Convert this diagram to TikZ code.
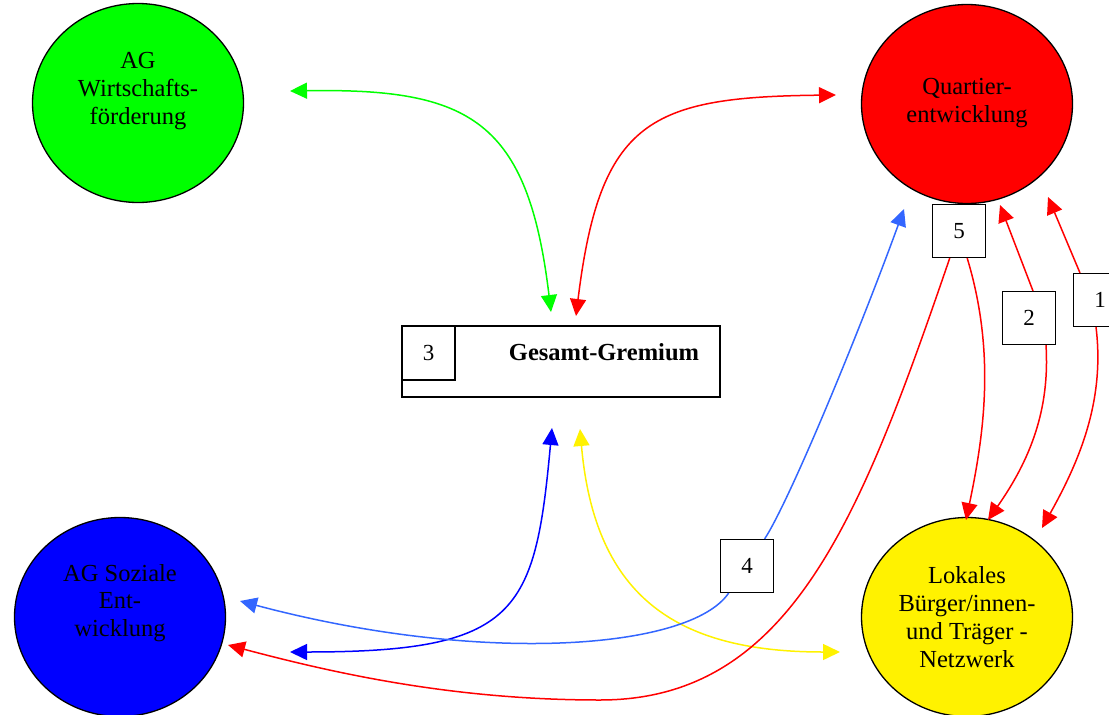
\documentclass[tikz,border=0pt]{standalone}
\usepackage{fontspec}
\setmainfont{Liberation Serif}
\usetikzlibrary{arrows.meta,shapes.geometric}
\definecolor{hellblau}{RGB}{51,102,255}

\begin{document}
\begin{tikzpicture}[x=1pt,y=-1pt,
  kreis/.style={ellipse, draw, line width=1.3pt, minimum width=211pt, minimum height=199pt, inner sep=0pt},
  nummer/.style={draw, line width=1.1pt, fill=white, minimum width=53pt, minimum height=53pt, inner sep=0pt, font=\fontsize{23}{26}\selectfont},
  schrift/.style={align=center, font=\fontsize{24.5}{27.8}\selectfont},
  pfeil/.style={line width=1.5pt, -{Triangle[length=17pt,width=16pt]}},
  doppel/.style={line width=1.5pt, {Triangle[length=17pt,width=16pt]}-{Triangle[length=17pt,width=16pt]}}]

\useasboundingbox (0,0) rectangle (1109,715);

% -------------------------------------------------
% Kreise
% -------------------------------------------------
\node[kreis, fill=green]  (wirtschaft) at (138,103) {};
\node[kreis, fill=red]    (quartier)   at (967,104) {};
\node[kreis, fill=blue]   (soziales)   at (120,617) {};
\node[kreis, fill=yellow] (netzwerk)   at (967,617) {};

\node[schrift] (wirtschafttext) at (138,91)  {AG\\Wirtschafts-\\förderung};
\node[schrift] (quartiertext)   at (967,103) {Quartier-\\entwicklung};
\node[schrift] (sozialestext)   at (120,603) {AG Soziale\\Ent-\\wicklung};
\node[schrift] (netzwerktext)   at (967,617) {Lokales\\Bürger/innen-\\und Träger -\\Netzwerk};

% -------------------------------------------------
% Gremium
% -------------------------------------------------
\node[draw, line width=1.1pt, minimum width=318pt, minimum height=71pt, inner sep=0pt] (gremium) at (561,361.5) {};
\node[nummer, minimum height=54pt, anchor=north west] (n3) at (gremium.north west) {3};
\node[schrift, font=\fontsize{24.5}{28}\selectfont\bfseries] (gremiumtext) at (604,352) {Gesamt-Gremium};

% -------------------------------------------------
% Enden der Pfeile
% -------------------------------------------------
\coordinate (gruenlinks)  at (290,91);
\coordinate (gruenunten)  at (551,312);
\coordinate (rotunten)    at (576,316);
\coordinate (rotrechts)   at (836,95);
\coordinate (blauoben)    at (552,428);
\coordinate (blaulinks)   at (290,652);
\coordinate (gelboben)    at (580,429);
\coordinate (gelbrechts)  at (840,652);
\coordinate (hblinks)     at (240,601);
\coordinate (hboben)      at (904,209);
\coordinate (rotlinks)    at (228,645);
\coordinate (q5)          at (1000,205);
\coordinate (q1)          at (1048,197);
\coordinate (y5)          at (966,520);
\coordinate (y2)          at (988,520);
\coordinate (y1)          at (1042,528);

% -------------------------------------------------
% Zahlen
% -------------------------------------------------
\node[nummer] (n1) at (1100,300) {1};
\node[nummer] (n2) at (1029,318) {2};
\node[nummer] (n4) at (747,566) {4};
\node[nummer] (n5) at (959,231) {5};

% -------------------------------------------------
% Pfeile zum Gremium
% -------------------------------------------------
\draw[doppel, green] (gruenlinks) .. controls (470,88) and (528,120) .. (gruenunten);
\draw[doppel, red] (rotunten) .. controls (600,120) and (650,97) .. (rotrechts);
\draw[doppel, blue] (blaulinks) .. controls (518,652) and (535,613) .. (blauoben);
\draw[doppel, yellow] (gelboben) .. controls (595,600) and (680,652) .. (gelbrechts);

% -------------------------------------------------
% Pfeile rechts
% -------------------------------------------------
\draw[pfeil, hellblau] (n4) .. controls (690,650) and (480,665) .. (hblinks);
\draw[pfeil, hellblau] (n4) .. controls (790,500) and (860,330) .. (hboben);
\draw[pfeil, red] (n5) .. controls (860,520) and (790,700) .. (600,700)
  .. controls (450,700) and (330,672) .. (rotlinks);
\draw[pfeil, red] (n5) .. controls (995,350) and (985,430) .. (y5);
\draw[pfeil, red] ([xshift=4]n2.north) -- (q5);
\draw[pfeil, red] ([xshift=17]n2.south) .. controls (1050,410) and (1030,460) .. (y2);
\draw[pfeil, red] ([xshift=-20]n1.north) -- (q1);
\draw[pfeil, red] ([xshift=-4]n1.south) .. controls (1105,400) and (1080,460) .. (y1);

\end{tikzpicture}
\end{document}
